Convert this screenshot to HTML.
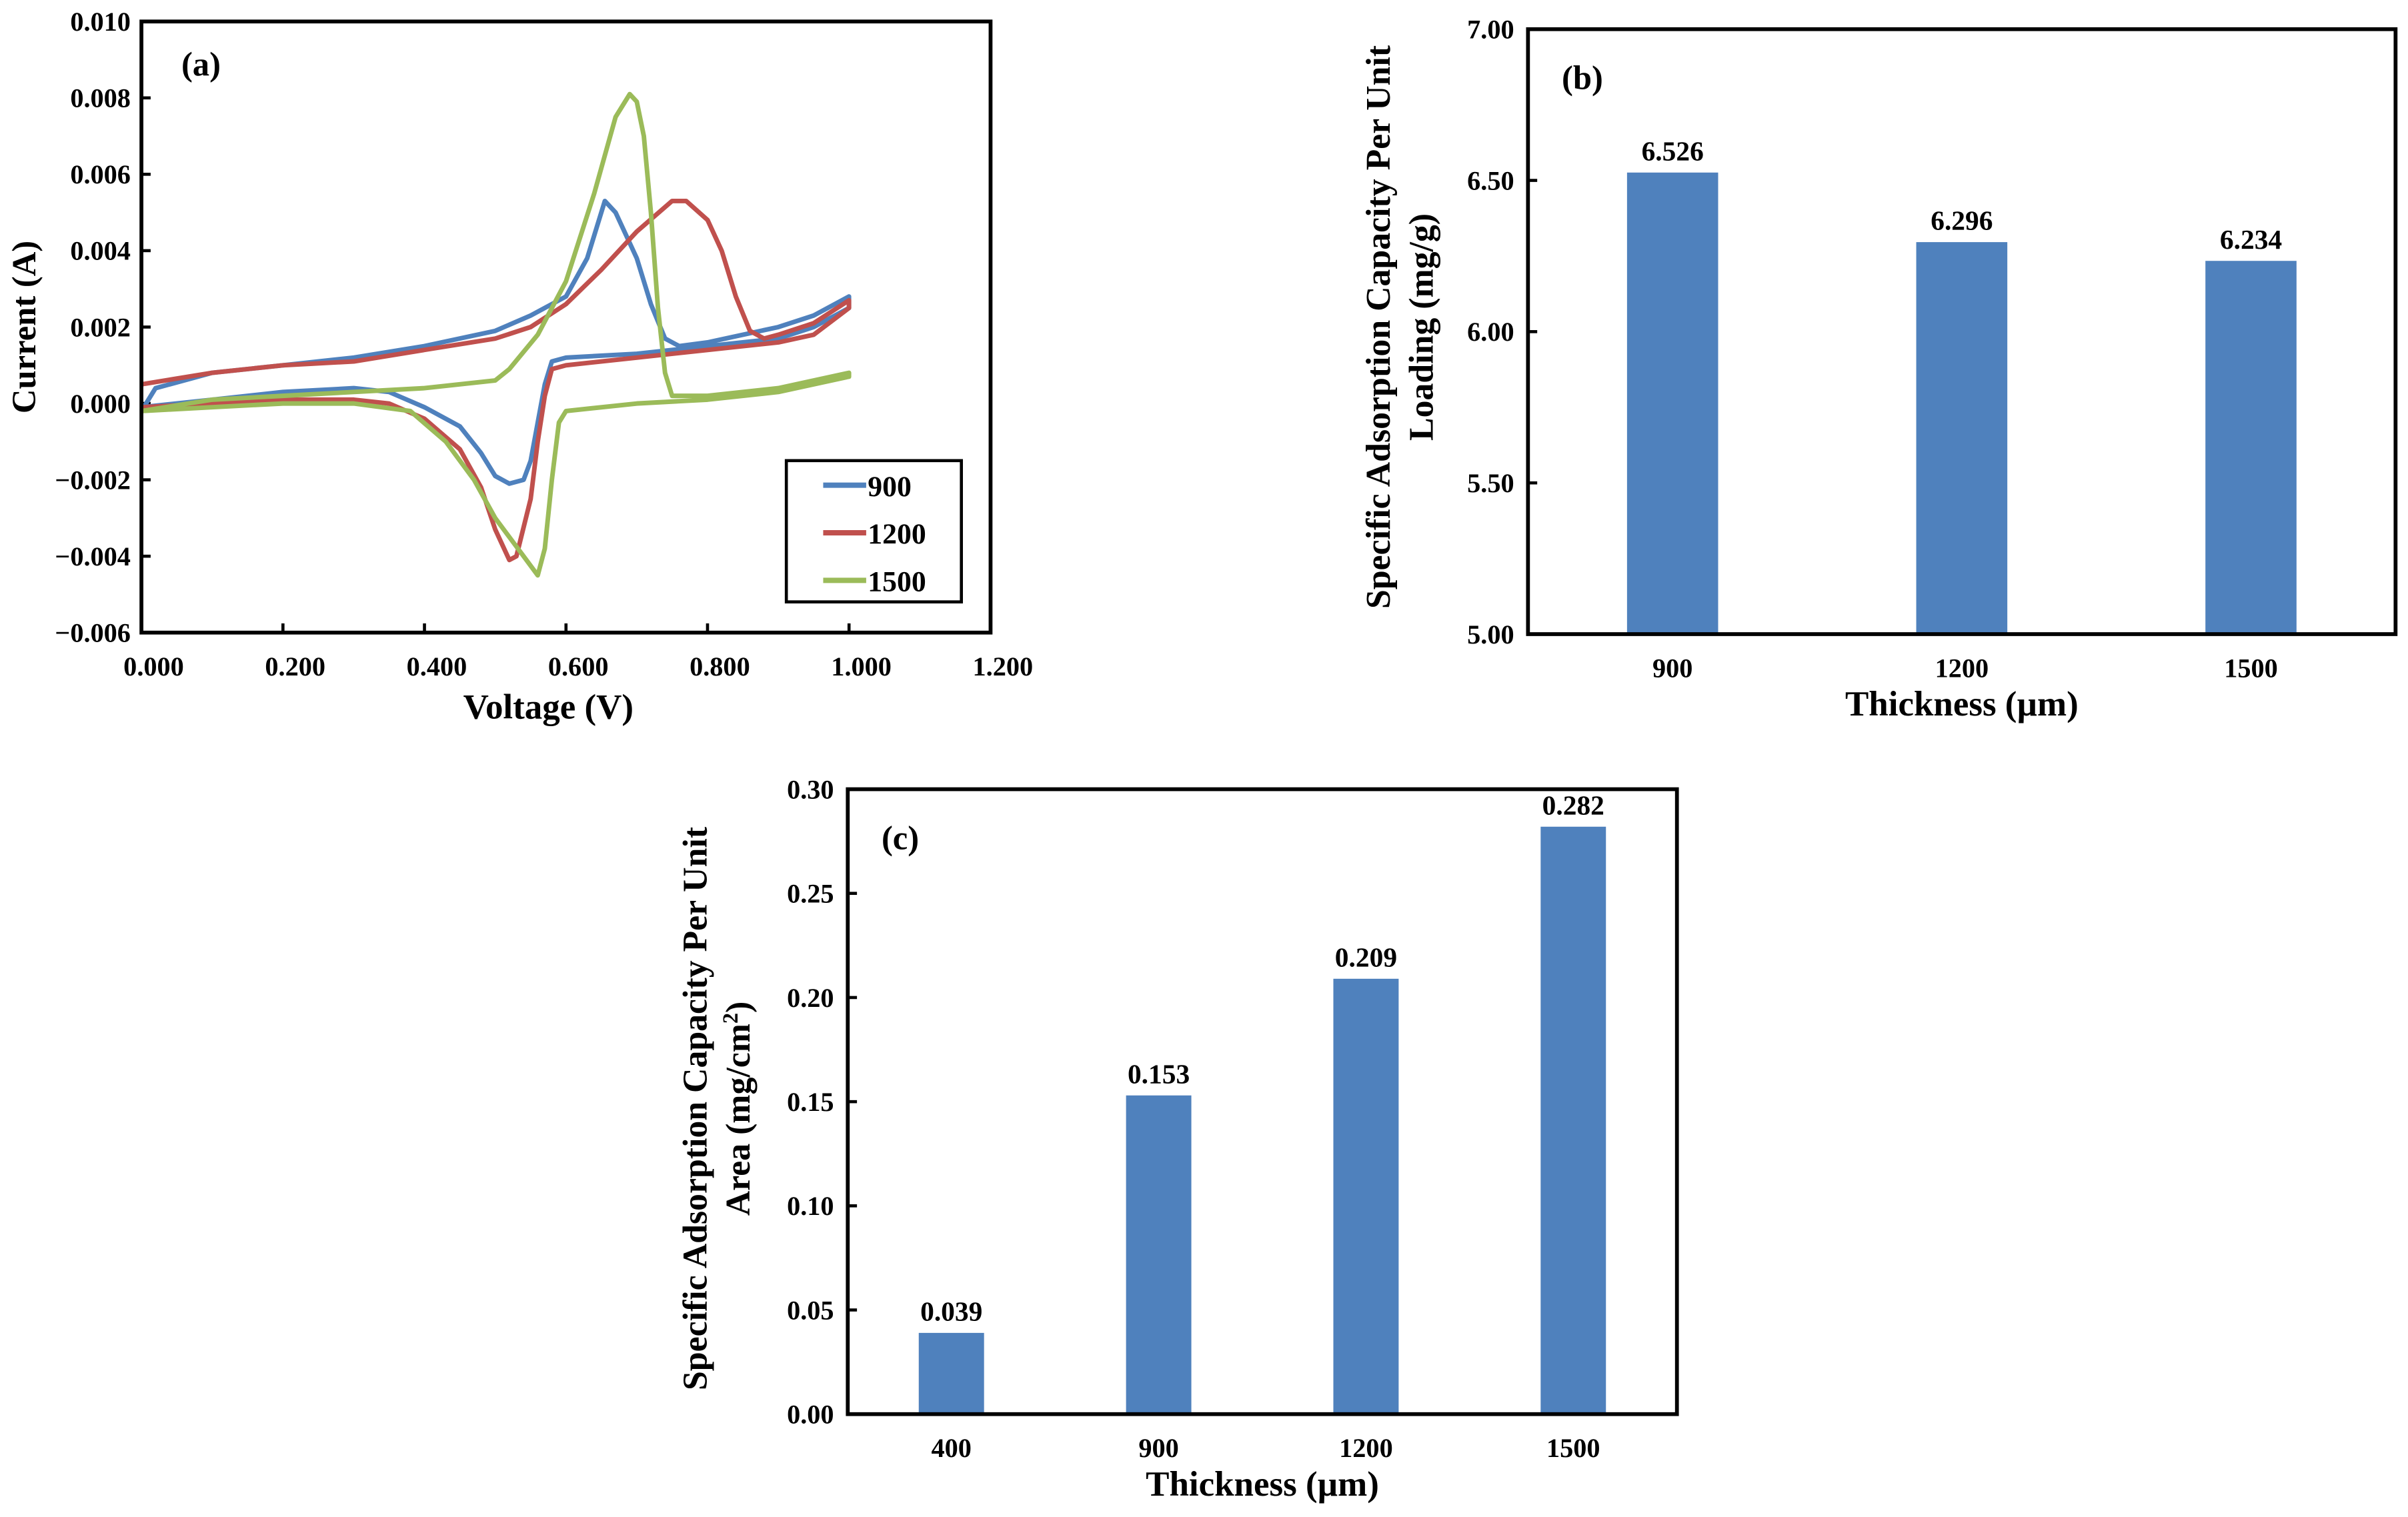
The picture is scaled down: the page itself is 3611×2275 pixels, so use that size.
<!DOCTYPE html>
<html><head><meta charset="utf-8"><style>
html,body{margin:0;padding:0;background:#fff;}
svg{display:block;font-family:"Liberation Serif",serif;font-weight:bold;}
</style></head><body>
<svg id="fig" width="3611" height="2275" viewBox="0 0 1568 988" xmlns="http://www.w3.org/2000/svg"></svg>
<script>
// ---- Chart (a) data ----
const cvVolt900F = [0,0.02,0.1,0.2,0.3,0.4,0.5,0.55,0.6,0.63,0.655,0.67,0.7,0.72,0.74,0.76,0.8,0.85,0.9,0.95,1.0];
const cvCurr900F = [-0.0002,0.0004,0.0008,0.0010,0.0012,0.0015,0.0019,0.0023,0.0028,0.0038,0.0053,0.0050,0.0038,0.0026,0.0017,0.0015,0.0016,0.0018,0.0020,0.0023,0.0028];
const cvVolt900R = [1.0,0.95,0.9,0.8,0.7,0.6,0.58,0.57,0.56,0.55,0.54,0.52,0.5,0.48,0.45,0.4,0.35,0.3,0.2,0.1,0.0];
const cvCurr900R = [0.0025,0.0020,0.0017,0.0015,0.0013,0.0012,0.0011,0.0005,-0.0005,-0.0015,-0.0020,-0.0021,-0.0019,-0.0013,-0.0006,-0.0001,0.0003,0.0004,0.0003,0.0001,-0.0001];
const cvVolt1200F = [0,0.1,0.2,0.3,0.4,0.5,0.55,0.6,0.65,0.7,0.75,0.77,0.8,0.82,0.84,0.86,0.88,0.9,0.95,1.0];
const cvCurr1200F = [0.0005,0.0008,0.0010,0.0011,0.0014,0.0017,0.0020,0.0026,0.0035,0.0045,0.0053,0.0053,0.0048,0.0040,0.0028,0.0019,0.0017,0.0018,0.0021,0.0027];
const cvVolt1200R = [1.0,0.95,0.9,0.8,0.7,0.6,0.58,0.57,0.56,0.55,0.53,0.52,0.5,0.48,0.45,0.4,0.35,0.3,0.2,0.1,0.0];
const cvCurr1200R = [0.0025,0.0018,0.0016,0.0014,0.0012,0.0010,0.0009,0.0002,-0.0010,-0.0025,-0.0040,-0.0041,-0.0033,-0.0022,-0.0012,-0.0004,0.0000,0.0001,0.0001,0.0000,-0.0001];
const cvVolt1500F = [0,0.1,0.2,0.3,0.4,0.5,0.52,0.56,0.6,0.64,0.67,0.69,0.7,0.71,0.72,0.73,0.74,0.75,0.8,0.9,1.0];
const cvCurr1500F = [-0.0002,0.0001,0.0002,0.0003,0.0004,0.0006,0.0009,0.0018,0.0032,0.0055,0.0075,0.0081,0.0079,0.0070,0.0050,0.0025,0.0008,0.0002,0.0002,0.0004,0.0008];
const cvVolt1500R = [1.0,0.9,0.8,0.7,0.6,0.59,0.58,0.57,0.56,0.54,0.5,0.47,0.43,0.38,0.3,0.2,0.1,0.0];
const cvCurr1500R = [0.0007,0.0003,0.0001,0.0000,-0.0002,-0.0005,-0.0020,-0.0038,-0.0045,-0.0040,-0.0030,-0.0020,-0.0010,-0.0002,0.0000,0.0000,-0.0001,-0.0002];
const aXTicks = ["0.000","0.200","0.400","0.600","0.800","1.000","1.200"];
const aYTicks = ["-0.006","-0.004","-0.002","0.000","0.002","0.004","0.006","0.008","0.010"];
// ---- Chart (b) data ----
const bCats = ["900","1200","1500"];
const bVals = [6.526,6.296,6.234];
const bLabels = ["6.526","6.296","6.234"];
const bYTicks = ["5.00","5.50","6.00","6.50","7.00"];
// ---- Chart (c) data ----
const cCats = ["400","900","1200","1500"];
const cVals = [0.039,0.153,0.209,0.282];
const cLabels = ["0.039","0.153","0.209","0.282"];
const cYTicks = ["0.00","0.05","0.10","0.15","0.20","0.25","0.30"];

const NS="http://www.w3.org/2000/svg";
const svg=document.getElementById('fig');
function mk(tag,attrs,parent,text){const e=document.createElementNS(NS,tag);for(const k in attrs)e.setAttribute(k,attrs[k]);if(text!==undefined)e.textContent=text;(parent||svg).appendChild(e);return e;}

// ===== Chart A =====
const A={L:92,R:645,T:14,B:412,x0:0,x1:1.2,y0:-0.006,y1:0.010};
const ax=v=>A.L+(v-A.x0)/(A.x1-A.x0)*(A.R-A.L);
const ay=v=>A.B-(v-A.y0)/(A.y1-A.y0)*(A.B-A.T);
const gA=mk('g',{});


aYTicks.forEach(t=>{const v=parseFloat(t);const y=ay(v);
 const tk=mk('line',{x1:A.L,x2:A.L+6,y1:y,y2:y,stroke:'#000','stroke-width':2},gA);
 
 const lb=mk('text',{x:A.L-7,y:y+6,'text-anchor':'end','font-size':17.5},gA,t.replace('-','\u2212'));
 });
aXTicks.forEach(t=>{const v=parseFloat(t);const x=ax(v);
 const tk=mk('line',{x1:x,x2:x,y1:A.B,y2:A.B-6,stroke:'#000','stroke-width':2},gA);
 
 const lb=mk('text',{x:x+8,y:A.B+28,'text-anchor':'middle','font-size':17.5},gA,t);
 });
function series(vf,cf,vr,cr,color,name){
 const pts=[];vf.forEach((v,i)=>pts.push(ax(v).toFixed(1)+','+ay(cf[i]).toFixed(1)));
 vr.forEach((v,i)=>pts.push(ax(v).toFixed(1)+','+ay(cr[i]).toFixed(1)));
 const p=mk('polyline',{points:pts.join(' '),fill:'none',stroke:color,'stroke-width':3,'stroke-linejoin':'round'},gA);
 }
series(cvVolt900F,cvCurr900F,cvVolt900R,cvCurr900R,'#4F81BD','series-900');
series(cvVolt1200F,cvCurr1200F,cvVolt1200R,cvCurr1200R,'#C0504D','series-1200');
series(cvVolt1500F,cvCurr1500F,cvVolt1500R,cvCurr1500R,'#9BBB59','series-1500');
const fa=mk('rect',{x:A.L,y:A.T,width:A.R-A.L,height:A.B-A.T,fill:'none',stroke:'#000','stroke-width':2.5},gA);

const lg=mk('g',{},gA);
mk('rect',{x:512,y:300,width:114,height:92,fill:'#fff',stroke:'#000','stroke-width':2},lg);
[['900','#4F81BD',316],['1200','#C0504D',347],['1500','#9BBB59',378]].forEach(e=>{
 const g=mk('g',{},lg);
 mk('line',{x1:536,x2:564,y1:e[2],y2:e[2],stroke:e[1],'stroke-width':3.5},g);
 mk('text',{x:565,y:e[2]+7,'font-size':19},g,e[0]);});
const ta=mk('text',{x:118,y:49,'font-size':22},gA,'(a)');
const xta=mk('text',{x:357,y:468,'text-anchor':'middle','font-size':23},gA,'Voltage (V)');
const yta=mk('text',{x:0,y:0,'text-anchor':'middle','font-size':22,transform:'translate(23,213) rotate(-90)'},gA,'Current (A)');

// ===== Bar chart helper =====
function barChart(P,cats,vals,labels,ticks,name,panel,ytitle1,ytitle2,ytx,yty){
 const g=mk('g',{});
 const y0=parseFloat(ticks[0]),y1=parseFloat(ticks[ticks.length-1]);
 const sy=v=>P.B-(v-y0)/(y1-y0)*(P.B-P.T);
 const band=(P.R-P.L)/cats.length,bw=band*0.315;
 ticks.forEach(t=>{const y=sy(parseFloat(t));
  const tk=mk('line',{x1:P.L,x2:P.L+6,y1:y,y2:y,stroke:'#000','stroke-width':2},g);
  
  const lb=mk('text',{x:P.L-9,y:y+6,'text-anchor':'end','font-size':17.5},g,t);
  });
 cats.forEach((c,i)=>{const cx=P.L+band*(i+0.5);const yv=sy(vals[i]);
  const r=mk('rect',{x:cx-bw/2,y:yv,width:bw,height:P.B-yv,fill:'#4F81BD'},g);
  
  const vl=mk('text',{x:cx,y:yv-8,'text-anchor':'middle','font-size':18},g,labels[i]);
  
  const xl=mk('text',{x:cx,y:P.B+28,'text-anchor':'middle','font-size':17.5},g,c);
  });
 const f=mk('rect',{x:P.L,y:P.T,width:P.R-P.L,height:P.B-P.T,fill:'none',stroke:'#000','stroke-width':2.5},g);
 
 const pl=mk('text',{x:P.L+22,y:P.T+39,'font-size':22},g,panel);
 const xt=mk('text',{x:(P.L+P.R)/2,y:P.B+53,'text-anchor':'middle','font-size':23},g,'Thickness (\u00b5m)');
 const yt=mk('text',{'text-anchor':'middle','font-size':22.5,transform:'translate('+ytx+','+yty+') rotate(-90)'},g);
 
 mk('tspan',{x:0,y:0},yt,ytitle1);
 const t2=mk('tspan',{x:0,y:28},yt);t2.innerHTML=ytitle2;
}
barChart({L:995,R:1560,T:19,B:413},bCats,bVals,bLabels,bYTicks,'chart-b','(b)','Specific Adsorption Capacity Per Unit','Loading (mg/g)',905,213);
barChart({L:552,R:1092,T:514,B:921},cCats,cVals,cLabels,cYTicks,'chart-c','(c)','Specific Adsorption Capacity Per Unit','Area (mg/cm<tspan baseline-shift="super" font-size="14">2</tspan>)',460,722);
</script>
</body></html>
